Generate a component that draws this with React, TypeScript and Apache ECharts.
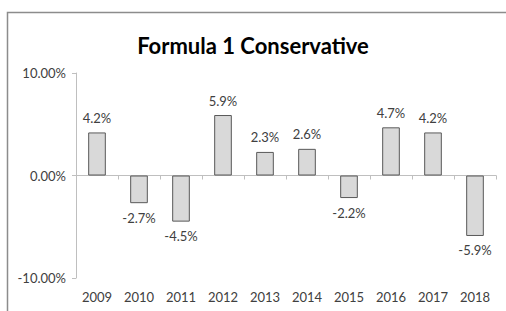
import React, { useEffect, useRef } from "react";
import * as echarts from "echarts";

const years = ["2009", "2010", "2011", "2012", "2013", "2014", "2015", "2016", "2017", "2018"];
const returnsPct = [4.2, -2.7, -4.5, 5.9, 2.3, 2.6, -2.2, 4.7, 4.2, -5.9];
const yTicks = { min: -10, max: 10, interval: 10 };
const title = "Formula 1 Conservative";

const FONT = "Lato, 'Open Sans', sans-serif";

export default function App() {
  const ref = useRef<HTMLDivElement>(null);
  useEffect(() => {
    const chart = echarts.init(ref.current!, null, { renderer: "svg" });
    chart.setOption({
      animation: false,
      backgroundColor: "#ffffff",
      textStyle: { fontFamily: FONT },
      title: {
        text: title,
        left: "center",
        top: 29,
        textStyle: { fontFamily: FONT, fontSize: 22, fontWeight: "bold", color: "#000000" },
      },
      graphic: [
        {
          type: "polyline",
          shape: { points: [[7.5, 311], [7.5, 12.5], [506, 12.5]] },
          style: { stroke: "#8c8c8c", lineWidth: 1.5, fill: "none" },
          silent: true,
        },
      ],
      grid: { left: 76, right: 10, top: 73, bottom: 33 },
      xAxis: [
        {
          type: "category",
          data: years,
          position: "bottom",
          axisLine: { show: false, onZero: false },
          axisTick: { show: false },
          axisLabel: { color: "#404040", fontSize: 13, fontFamily: FONT, margin: 12 },
        },
        {
          type: "category",
          data: years,
          position: "bottom",
          axisLine: { show: true, onZero: true, lineStyle: { color: "#bfbfbf", width: 1 } },
          axisTick: { show: true, length: 4, lineStyle: { color: "#bfbfbf" } },
          axisLabel: { show: false },
        },
      ],
      yAxis: {
        type: "value",
        min: yTicks.min,
        max: yTicks.max,
        interval: yTicks.interval,
        axisLine: { show: true, lineStyle: { color: "#bfbfbf", width: 1 } },
        axisTick: { show: true, length: 4, lineStyle: { color: "#bfbfbf" } },
        splitLine: { show: false },
        axisLabel: {
          color: "#404040",
          fontSize: 13,
          fontFamily: FONT,
          margin: 10,
          formatter: (v: number) => `${v.toFixed(2)}%`,
        },
      },
      series: [
        {
          type: "bar",
          data: returnsPct,
          xAxisIndex: 0,
          barWidth: "42%",
          itemStyle: { color: "#d9d9d9", borderColor: "#595959", borderWidth: 1 },
          label: {
            show: true,
            position: "outside",
            distance: 8,
            color: "#404040",
            fontSize: 13,
            fontFamily: FONT,
            formatter: (p: any) => `${p.value.toFixed(1)}%`,
          },
        },
      ],
    });
    return () => chart.dispose();
  }, []);
  return <div ref={ref} style={{ width: 506, height: 311, position: "absolute", left: 0, top: 0 }} />;
}
